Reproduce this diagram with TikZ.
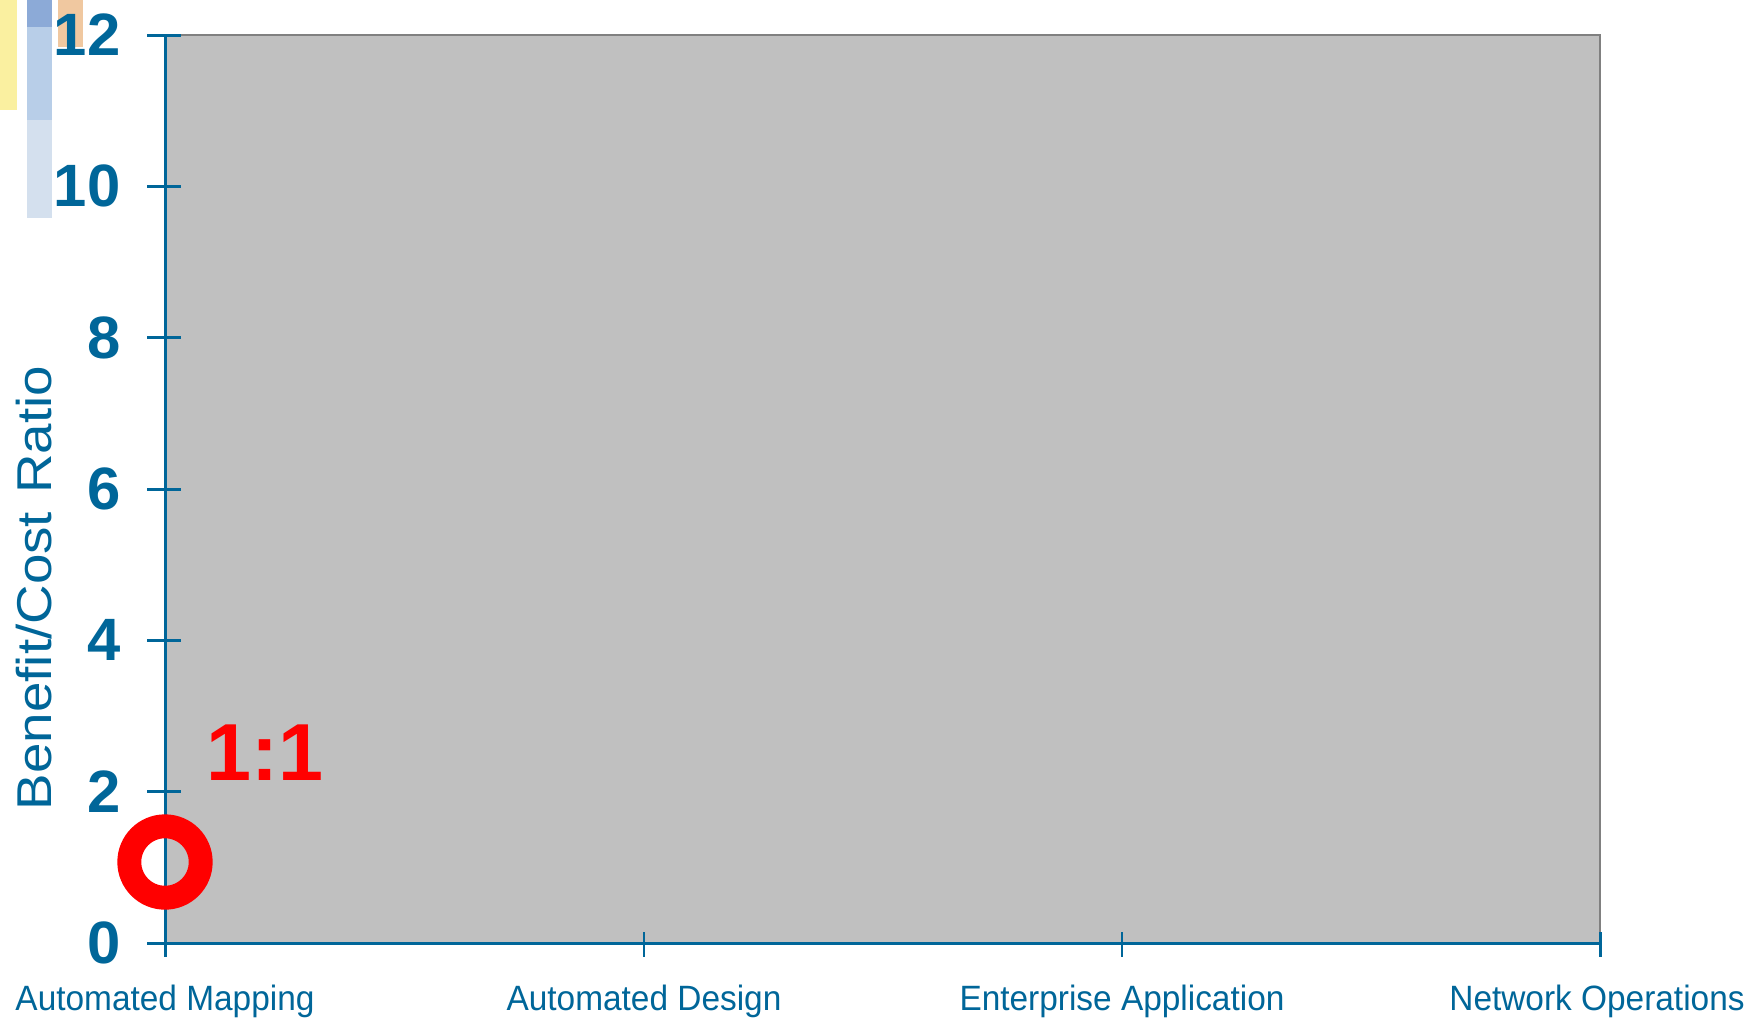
\documentclass[tikz,border=0pt]{standalone}
\usepackage{fontspec}
\setmainfont{Liberation Sans}
\definecolor{axisblue}{RGB}{0,102,153}
\definecolor{plotgray}{RGB}{192,192,192}
\definecolor{framegray}{RGB}{128,128,128}
\definecolor{baryellow}{RGB}{250,240,160}
\definecolor{barbluedark}{RGB}{140,170,215}
\definecolor{barbluemid}{RGB}{184,206,232}
\definecolor{barbluelight}{RGB}{212,224,238}
\definecolor{barorange}{RGB}{240,200,160}
\begin{document}
\begin{tikzpicture}[x=0.01cm,y=-0.01cm,
  axisline/.style={axisblue, line width=0.85pt},
  ylab/.style={anchor=east, inner sep=0pt, text=axisblue, font=\fontsize{17}{17}\selectfont\bfseries},
  xlab/.style={anchor=base, inner sep=0pt, xscale=0.95, text=axisblue, font=\fontsize{10}{10}\selectfont},
  ratiolab/.style={anchor=center, inner sep=0pt, text=red, font=\fontsize{23}{23}\selectfont\bfseries}]
\useasboundingbox (0,0) rectangle (1750,1020);
% decorative bars at top left
\fill[baryellow] (0,0) rectangle (17,110);
\fill[barbluedark] (27,0) rectangle (52,27);
\fill[barbluemid] (27,27) rectangle (52,120);
\fill[barbluelight] (27,120) rectangle (52,218);
\fill[barorange] (58,0) rectangle (83,47);
% plot area
\fill[plotgray] (165,35) rectangle (1600,943);
\draw[framegray, line width=0.7pt] (165,35) -- (1600,35) -- (1600,943);
% axes
\draw[axisline] (165.5,35) -- (165.5,943) -- (1600,943);
\foreach \i in {0,...,6} {
  \draw[axisline] (147,{943-\i*151.33}) -- (181,{943-\i*151.33});
}
\foreach \xx in {165.5,644,1122,1600} {
  \draw[axisline] (\xx,932) -- (\xx,957);
}
% y tick labels
\node[ylab] (y0) at (121,943) {0};
\node[ylab] (y2) at (121,791.7) {2};
\node[ylab] (y4) at (121,640.3) {4};
\node[ylab] (y6) at (121,489) {6};
\node[ylab] (y8) at (121,337.7) {8};
\node[ylab] (y10) at (121,186.3) {10};
\node[ylab] (y12) at (121,35) {12};
% axis title
\node[rotate=90, xscale=1.12, inner sep=0pt, text=axisblue, font=\fontsize{13.9}{14}\selectfont] (ytitle) at (34,588) {Benefit/Cost\,\,Ratio};
% x labels
\node[xlab] (xa) at (165,1010) {Automated Mapping};
\node[xlab] (xb) at (644,1010) {Automated Design};
\node[xlab] (xc) at (1122,1010) {Enterprise Application};
\node[xlab] (xd) at (1597,1010) {Network Operations};
% marker
\coordinate (pt) at (165,862);
\draw[red, line width=6.8pt] (pt) circle (35.7);
\node[ratiolab] (ratio) at (265,753) {1:1};
\end{tikzpicture}
\end{document}
